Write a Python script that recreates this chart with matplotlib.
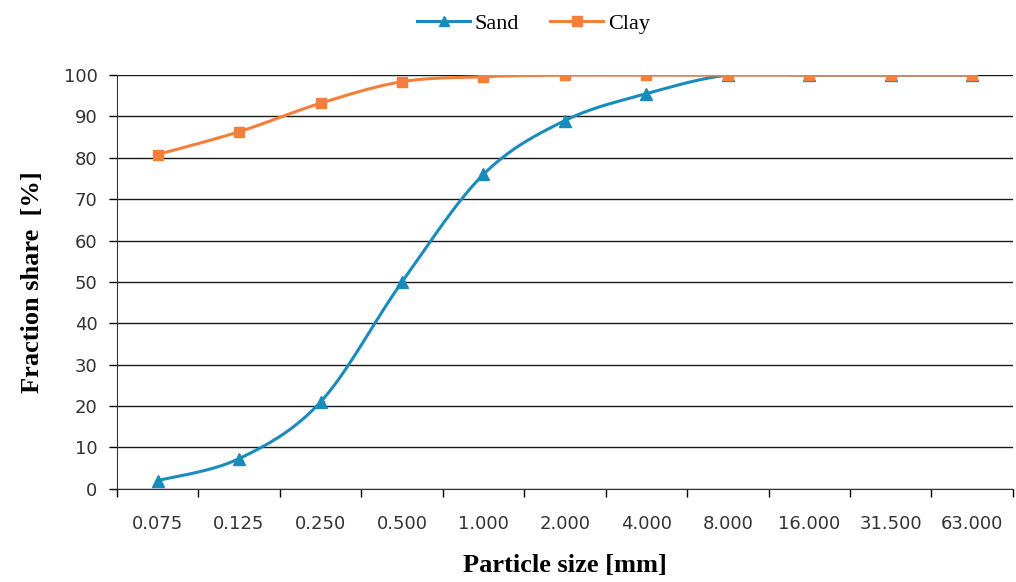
import numpy as np
import matplotlib
matplotlib.use("Agg")
import matplotlib.pyplot as plt

sizes = ["0.075", "0.125", "0.250", "0.500", "1.000", "2.000", "4.000",
         "8.000", "16.000", "31.500", "63.000"]
sand = [2.0, 7.3, 21.0, 50.0, 76.0, 89.0, 95.5, 100.0, 100.0, 100.0, 100.0]
clay = [80.8, 86.3, 93.2, 98.4, 99.6, 100.0, 100.0, 100.0, 100.0, 100.0, 100.0]


def smooth(xs, ys, n=30):
    # Excel-like smoothed line (Catmull-Rom through the points)
    xs = np.asarray(xs, float)
    ys = np.asarray(ys, float)
    px = np.concatenate([[xs[0]], xs, [xs[-1]]])
    py = np.concatenate([[ys[0]], ys, [ys[-1]]])
    ox, oy = [], []
    t = np.linspace(0, 1, n)
    for i in range(1, len(px) - 2):
        p0, p1, p2, p3 = [np.array([px[j], py[j]]) for j in range(i - 1, i + 3)]
        c1 = p1 + (p2 - p0) / 6
        c2 = p2 - (p3 - p1) / 6
        pts = ((1 - t) ** 3)[:, None] * p1 + (3 * (1 - t) ** 2 * t)[:, None] * c1 \
            + (3 * (1 - t) * t ** 2)[:, None] * c2 + (t ** 3)[:, None] * p2
        ox.extend(pts[:, 0])
        oy.extend(pts[:, 1])
    return ox, oy


blue = "#1a8bbd"
orange = "#f47f3a"
x = np.arange(len(sizes))

fig = plt.figure(figsize=(10.16, 5.82), dpi=100)
ax = fig.add_axes([0.115, 0.160, 0.882, 0.711])

sx, sy = smooth(x, sand)
cx, cy = smooth(x, clay)
ax.plot(sx, sy, color=blue, lw=2.2, zorder=3)
ax.plot(x, sand, "^", color=blue, ms=8, zorder=4)
ax.plot(cx, cy, color=orange, lw=2.2, zorder=3)
ax.plot(x, clay, "s", color=orange, ms=7.5, zorder=4)

# legend proxies
ax.plot([], [], color=blue, lw=2.2, marker="^", ms=6.5, label="Sand")
ax.plot([], [], color=orange, lw=2.2, marker="s", ms=6.5, label="Clay")
leg = fig.legend(loc="upper center", bbox_to_anchor=(0.525, 1.012), ncol=2, frameon=False,
                 prop={"family": "Liberation Serif", "size": 16},
                 handlelength=2.4, columnspacing=1.4, handletextpad=0.2)

ax.set_xlim(-0.5, len(sizes) - 0.5)
ax.set_ylim(0, 100)
ax.set_yticks(range(0, 101, 10))
ax.yaxis.grid(True, color="#1a1a1a", lw=1)
ax.set_axisbelow(True)

ax.set_xticks(x)
ax.set_xticklabels(sizes)
ax.set_xticks(np.arange(-0.5, len(sizes), 1), minor=True)
ax.tick_params(axis="x", which="major", length=0, pad=19)
ax.tick_params(axis="x", which="minor", length=6, width=1, direction="out")
ax.tick_params(axis="y", length=6, width=1, direction="out", pad=8)
for lab in ax.get_xticklabels() + ax.get_yticklabels():
    lab.set_fontsize(13)
    lab.set_color("#333333")
    lab.set_family("DejaVu Sans")

for s in ["top", "right"]:
    ax.spines[s].set_visible(False)
ax.spines["left"].set_color("#333333")
ax.spines["bottom"].set_color("#333333")

ax.set_xlabel("Particle size [mm]", family="Liberation Serif", fontweight="bold",
              fontsize=19, labelpad=15)
ax.set_ylabel("Fraction share  [%]", family="Liberation Serif", fontweight="bold",
              fontsize=19, labelpad=14)

fig.savefig("out.png", dpi=100)
